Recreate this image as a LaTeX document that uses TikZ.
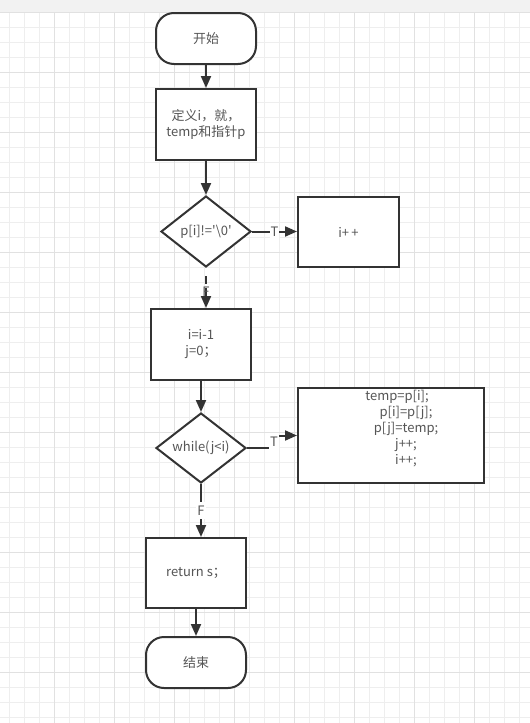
\documentclass[tikz,border=0pt]{standalone}
\usepackage{fontspec}
\usepackage{xcolor}
\usepackage{tikz}
\usetikzlibrary{calc,arrows.meta,shapes,positioning}
\newfontfamily\cjk{Noto Sans CJK SC}
\definecolor{ink}{HTML}{333333}
\definecolor{script}{HTML}{555555}
\definecolor{gridminor}{HTML}{EEEEEE}
\definecolor{gridmajor}{HTML}{E1E1E1}
\definecolor{topbar}{HTML}{F2F2F2}

\begin{document}
\begin{tikzpicture}[x=1pt,y=-1pt]
  \tikzset{
    Block/.style={draw=ink,line width=2pt,fill=white,text=script,
                  font=\cjk\fontsize{13}{16}\selectfont,align=center,inner sep=0pt},
    Term/.style={Block,rectangle,rounded corners=18pt,minimum width=100pt,minimum height=51pt},
    Proc/.style={Block,rectangle,minimum width=100pt,minimum height=71pt},
    Cond/.style={Block,diamond,aspect=1.27,minimum width=90pt,minimum height=71pt},
    BodyText/.style={text=script,font=\cjk\fontsize{13}{16}\selectfont,align=center,inner sep=0pt},
    Flow/.style={draw=ink,line width=2pt,-{Triangle[length=12pt,width=10pt]}},
    FlowLabel/.style={fill=white,text=script,font=\cjk\fontsize{13}{16}\selectfont,
                      inner xsep=1pt,inner ysep=4pt}
  }
  \useasboundingbox (0,0) rectangle (530,723);

  % paper
  \fill[white] (0,12) rectangle (530,723);
  \fill[topbar] (0,0) rectangle (530,12);
  \foreach \x in {9.5,24.5,...,530} \draw[gridminor,line width=1pt] (\x,12) -- (\x,723);
  \foreach \y in {27.3,42.3,...,723} \draw[gridminor,line width=1pt] (0,\y) -- (530,\y);
  \foreach \x in {54.5,114.5,...,530} \draw[gridmajor,line width=1pt] (\x,12) -- (\x,723);
  \foreach \y in {12.3,72.3,...,723} \draw[gridmajor,line width=1pt] (0,\y) -- (530,\y);

  % nodes
  \node[Term] (start) at (206,38.5) {开始};
  \node[Proc] (init) at (206,124.5) {定义i，就，\\temp和指针p};
  \node[Cond] (scan) at (206,231.5) {p[i]!=\textquotesingle\textbackslash0\textquotesingle};
  \node[Proc,minimum width=101pt,minimum height=70pt] (incr) at (348.5,232) {i+\,+};
  \node[Proc] (reset) at (201,344.5) {i=i-1\\j=0；};
  \node[Cond,minimum height=70pt] (loop) at (201,448) {while(j<i)};
  \node[Proc,minimum width=186pt,minimum height=95pt] (swap) at (391,435.5) {};
  \node[BodyText] (swaptext) at (406,429) {\hspace*{-18pt}temp=p[i];\\p[i]=p[j];\\p[j]=temp;\\j++;\\i++;};
  \node[Proc,minimum height=70pt] (ret) at (196,573) {return s；};
  \node[Term] (stop) at (196,662.5) {结束};

  % scan the string
  \path (start) edge[Flow] (init);
  \path (init) edge[Flow] (scan);
  \path (scan.east) edge[Flow] node[FlowLabel] {T} (scan.east -| incr.west);
  \path (scan.south) edge[Flow,dash pattern=on 0pt off 8pt on 8pt off 4pt on 40pt]
        node[pos=0.6,text=script,font=\cjk\fontsize{13}{16}\selectfont] {F} (scan.south |- reset.north);

  % swap loop
  \path (reset) edge[Flow] (loop);
  \draw[Flow] (loop.east) -- ++(30,0) coordinate (bend) |- (swap.west);
  \node[FlowLabel] (tloop) at ($(bend)+(-3,-6)$) {T};
  \path (loop.south) edge[Flow] node[FlowLabel] {F} (loop.south |- ret.north);

  % finish
  \path (ret) edge[Flow] (stop);
\end{tikzpicture}
\end{document}
